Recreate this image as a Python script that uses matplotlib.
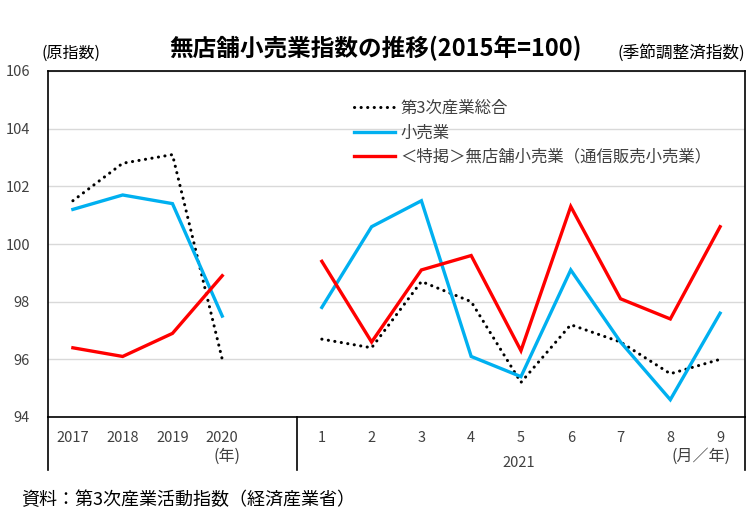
import numpy as np
import matplotlib
matplotlib.use("Agg")
import matplotlib.pyplot as plt
from matplotlib.lines import Line2D

plt.rcParams['font.family'] = ['Noto Sans CJK JP', 'DejaVu Sans']

# ───────────────────────── Data ─────────────────────────
year_labels = ["2017", "2018", "2019", "2020"]
month_labels = ["1", "2", "3", "4", "5", "6", "7", "8", "9"]

tertiary_annual = [101.5, 102.8, 103.1, 96.0]
retail_annual = [101.2, 101.7, 101.4, 97.5]
nonstore_annual = [96.4, 96.1, 96.9, 98.9]

tertiary_monthly = [96.7, 96.4, 98.7, 98.0, 95.2, 97.2, 96.6, 95.5, 96.0]
retail_monthly = [97.8, 100.6, 101.5, 96.1, 95.4, 99.1, 96.6, 94.6, 97.6]
nonstore_monthly = [99.4, 96.6, 99.1, 99.6, 96.3, 101.3, 98.1, 97.4, 100.6]

series_names = ["第3次産業総合", "小売業", "＜特掲＞無店舗小売業（通信販売小売業）"]

# ───────────────────────── Positions ─────────────────────────
tick_labels = year_labels + [""] + month_labels
x_year = np.arange(len(year_labels))
x_month = np.arange(len(month_labels)) + len(year_labels) + 1

blue = "#00B0F0"
red = "#FF0000"
gray_text = "#404040"
dot_style = dict(color="black", lw=2.2, linestyle=(0, (0.05, 2.1)), dash_capstyle="round")

fig = plt.figure(figsize=(7.56, 5.29), dpi=100)
ax = fig.add_axes([48 / 756, 1 - 417 / 529, 697 / 756, 346 / 529])

for xs, t, r, n in [(x_year, tertiary_annual, retail_annual, nonstore_annual),
                    (x_month, tertiary_monthly, retail_monthly, nonstore_monthly)]:
    ax.plot(xs, t, **dot_style)
    ax.plot(xs, r, color=blue, lw=2.4, solid_joinstyle="miter")
    ax.plot(xs, n, color=red, lw=2.4, solid_joinstyle="miter")

ax.set_xlim(-0.5, len(tick_labels) - 0.5)
ax.set_ylim(94, 106)
ax.set_yticks(np.arange(94, 107, 2))
ax.set_xticks(np.arange(len(tick_labels)))
ax.set_xticklabels(tick_labels)
ax.tick_params(axis="both", length=0, labelsize=10.5, colors=gray_text)
ax.tick_params(axis="x", pad=10)
ax.tick_params(axis="y", pad=13)
ax.grid(axis="y", color="#D9D9D9", lw=1)
ax.set_axisbelow(True)
for sp in ax.spines.values():
    sp.set_color("black")
    sp.set_linewidth(1.2)

# category box lines below the axis
for xv in [-0.5, len(year_labels) + 0.5, len(tick_labels) - 0.5]:
    ax.plot([xv, xv], [94, 94 - 53 / 28.83], color="black", lw=1.2, clip_on=False)

# ───────────────────────── Legend ─────────────────────────
handles = [Line2D([], [], **dot_style),
           Line2D([], [], color=blue, lw=2.4),
           Line2D([], [], color=red, lw=2.4)]
ax.legend(handles, series_names, loc="upper left", bbox_to_anchor=(0.43, 0.935),
          frameon=False, fontsize=11.8, handlelength=2.5, handletextpad=0.3,
          labelspacing=0.45, labelcolor=gray_text, borderaxespad=0)

# ───────────────────────── Texts ─────────────────────────
fig.text(376 / 756, 1 - 48 / 529, "無店舗小売業指数の推移(2015年=100)", ha="center", va="center",
         fontsize=17, fontweight="bold")
fig.text(71 / 756, 1 - 53 / 529, "(原指数)", ha="center", va="center", fontsize=11.5)
fig.text(681 / 756, 1 - 53 / 529, "(季節調整済指数)", ha="center", va="center", fontsize=12)
fig.text(227 / 756, 1 - 456 / 529, "(年)", ha="center", va="center", fontsize=11.5, color=gray_text)
fig.text(519 / 756, 1 - 463 / 529, "2021", ha="center", va="center", fontsize=10.5, color=gray_text)
fig.text(701 / 756, 1 - 456 / 529, "(月／年)", ha="center", va="center", fontsize=11.5, color=gray_text)
fig.text(21 / 756, 1 - 500 / 529, "資料：第3次産業活動指数（経済産業省）", ha="left", va="center", fontsize=13)

fig.savefig("out.png", dpi=100)
